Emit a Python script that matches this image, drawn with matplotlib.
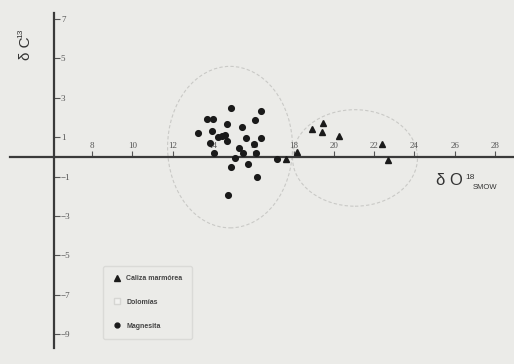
import matplotlib
matplotlib.use("Agg")
import matplotlib.pyplot as plt
from matplotlib.patches import Ellipse
from matplotlib.lines import Line2D

# Magnesita (dO18, dC13)
mag_x = [14.90, 16.39, 13.71, 14.00, 16.09, 14.68, 15.46, 13.25, 13.94, 14.60,
         14.44, 14.27, 15.64, 16.39, 13.86, 14.71, 16.05, 14.07, 15.31, 15.51,
         16.14, 15.10, 14.90, 15.74, 17.20, 16.17, 14.76]
mag_y = [2.47, 2.35, 1.91, 1.91, 1.86, 1.68, 1.51, 1.23, 1.32, 1.12,
         1.07, 1.00, 0.96, 0.95, 0.70, 0.83, 0.66, 0.22, 0.44, 0.22,
         0.22, -0.07, -0.49, -0.36, -0.09, -1.03, -1.93]

# Caliza marmórea
cal_x = [17.63, 18.19, 18.90, 19.48, 19.43, 20.27, 22.38, 22.70]
cal_y = [-0.10, 0.25, 1.41, 1.71, 1.28, 1.08, 0.64, -0.15]

# campos (centro x, centro y, ancho, alto)
campo_mag = (14.85, 0.5, 6.2, 8.2)
campo_cal = (21.05, -0.05, 6.2, 4.9)

xticks = [8, 10, 12, 14, 16, 18, 20, 22, 24, 26, 28]
yticks = [7, 5, 3, 1, -1, -3, -5, -7, -9]

fondo = "#ebebe8"
eje = "#3a3a3a"
W, H = 514, 364

fig = plt.figure(figsize=(5.14, 3.64), dpi=100, facecolor=fondo)
ax = fig.add_axes([10/W, 16/H, 504/W, 335/H])
ax.set_facecolor(fondo)
ax.set_xlim(3.93, 28.94)
ax.set_ylim(-9.70, 7.31)

for s in ["top", "right"]:
    ax.spines[s].set_visible(False)
ax.spines["left"].set_position(("axes", 44/504))
ax.spines["bottom"].set_position(("data", 0))
for s in ["left", "bottom"]:
    ax.spines[s].set_color(eje)
    ax.spines[s].set_linewidth(1.6)

ax.set_xticks(xticks)
ax.set_yticks(yticks)
ax.tick_params(axis="both", direction="in", length=4, width=0.8, color="#555555",
               labelsize=6.5, labelcolor="#555555")
ax.tick_params(axis="x", pad=-5)
ax.tick_params(axis="y", pad=-5)
for lbl in ax.get_xticklabels():
    lbl.set_va("bottom")
    lbl.set_family("Liberation Serif")
for lbl in ax.get_yticklabels():
    lbl.set_ha("left")
    lbl.set_family("Liberation Serif")

for cx, cy, w, h in [campo_mag, campo_cal]:
    ax.add_patch(Ellipse((cx, cy), w, h, fill=False, edgecolor="#c9c9c6",
                         linewidth=0.8, linestyle=(0, (3, 2)), zorder=1))

ax.plot(mag_x, mag_y, "o", color="#1a1a1a", markersize=4.1, zorder=3)
ax.plot(cal_x, cal_y, "^", color="#1a1a1a", markersize=5.0, zorder=3)

# titulos de ejes
txt = dict(color="#333333", family="Liberation Sans")
fig.text(26/W, 1 - 48/H, "δ C", rotation=90, ha="center", va="center", fontsize=11, **txt)
fig.text(21/W, 1 - 33/H, "13", rotation=90, ha="center", va="center", fontsize=6, **txt)
fig.text(436/W, 1 - 185/H, "δ O", ha="left", va="baseline", fontsize=12, **txt)
fig.text(465/W, 1 - 179/H, "18", ha="left", va="baseline", fontsize=6, **txt)
fig.text(473/W, 1 - 189/H, "SMOW", ha="left", va="baseline", fontsize=5.5, **txt)

handles = [
    Line2D([], [], marker="^", linestyle="", color="#1a1a1a", markersize=4),
    Line2D([], [], marker="s", linestyle="", markerfacecolor="#f2f2f0",
           markeredgecolor="#d6d6d3", markersize=4),
    Line2D([], [], marker="o", linestyle="", color="#1a1a1a", markersize=3.5),
]
leg = fig.legend(handles, ["Caliza marmórea", "Dolomías", "Magnesita"],
                 loc="lower left", bbox_to_anchor=(100/W, 22/H),
                 labelspacing=2.4, handletextpad=0.8, handlelength=1.2,
                 borderpad=1.3, frameon=True, fancybox=True, facecolor=fondo,
                 edgecolor="#d6d6d3", prop={"family": "Liberation Sans", "size": 5,
                                            "weight": "bold"})
for t in leg.get_texts():
    t.set_color("#444444")

fig.savefig("out.png", dpi=100, facecolor=fondo)
